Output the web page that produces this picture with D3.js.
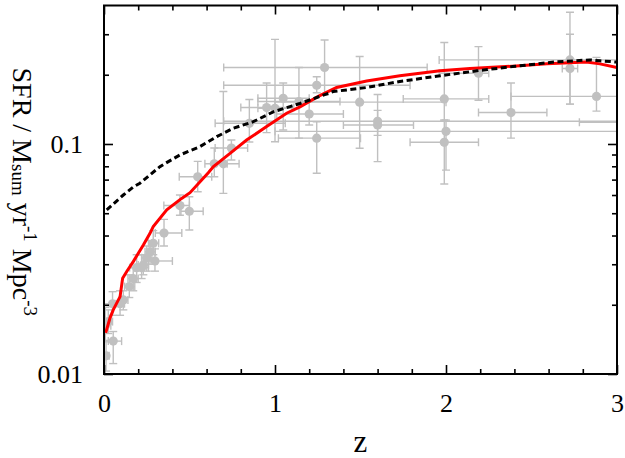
<!DOCTYPE html>
<html>
<head>
<meta charset="utf-8">
<script src="https://cdn.jsdelivr.net/npm/d3@7"></script>
<style>
  html, body { margin: 0; padding: 0; background: #fff; }
  svg { display: block; }
</style>
</head>
<body>
<svg id="chart" width="625" height="458"></svg>
<script>
// ---- data ----
const xMajorTicks = [0, 1, 2, 3];
const xMinorTicks = [0.2, 0.4, 0.6, 0.8, 1.2, 1.4, 1.6, 1.8, 2.2, 2.4, 2.6, 2.8];
const yMajorTicks = [0.01, 0.1];
const yMinorTicks = [0.02, 0.03, 0.04, 0.05, 0.06, 0.07, 0.08, 0.09, 0.2, 0.3];
const xLabel = "z";

// red solid model curve
const redZ = [0.01, 0.035, 0.054, 0.094, 0.109, 0.133, 0.171, 0.23, 0.269, 0.288, 0.367, 0.454, 0.503, 0.61, 0.64, 0.737, 0.834, 0.951, 1.068, 1.146, 1.253, 1.36, 1.536, 1.73, 1.965, 2.14, 2.39, 2.59, 2.82, 2.9, 3.0];
const redV = [0.0151, 0.0175, 0.019, 0.0217, 0.0261, 0.0279, 0.0308, 0.0364, 0.0409, 0.0437, 0.0517, 0.058, 0.0614, 0.075, 0.0797, 0.091, 0.104, 0.119, 0.136, 0.145, 0.161, 0.176, 0.188, 0.198, 0.208, 0.213, 0.218, 0.223, 0.227, 0.223, 0.215];

// black dashed model curve
const blackZ = [0.016, 0.113, 0.171, 0.21, 0.327, 0.366, 0.444, 0.561, 0.659, 0.756, 0.873, 0.99, 1.146, 1.34, 1.536, 1.73, 1.965, 2.18, 2.39, 2.63, 2.84, 2.9, 3.0];
const blackV = [0.0517, 0.060, 0.065, 0.0675, 0.0797, 0.083, 0.0896, 0.0974, 0.1076, 0.117, 0.125, 0.138, 0.150, 0.169, 0.176, 0.187, 0.198, 0.208, 0.217, 0.227, 0.232, 0.230, 0.227];

// observational points with error bars
const ptZ   = [0.012, 0.054, 0.008, 0.025, 0.05, 0.094, 0.113, 0.148, 0.171, 0.191, 0.22, 0.23, 0.25, 0.269, 0.288, 0.298, 0.351, 0.444, 0.499, 0.548, 0.645, 0.698, 0.745, 0.85, 0.951, 1.0, 1.048, 1.14, 1.2, 1.244, 1.244, 1.29, 1.495, 1.6, 1.6, 1.99, 2.0, 1.99, 2.19, 2.38, 2.725, 2.725, 2.88, 3.3];
const ptV   = [0.0120, 0.0139, 0.0162, 0.0169, 0.0202, 0.0202, 0.0210, 0.0240, 0.0260, 0.0290, 0.0290, 0.0298, 0.0320, 0.0340, 0.0370, 0.0310, 0.0410, 0.0540, 0.0510, 0.0720, 0.0820, 0.0820, 0.0960, 0.1230, 0.1440, 0.1430, 0.1580, 0.1530, 0.1350, 0.1800, 0.1060, 0.2150, 0.1520, 0.1255, 0.1210, 0.1570, 0.1135, 0.1017, 0.2030, 0.1370, 0.2320, 0.2130, 0.1610, 0.1243];
const ptZlo = [0.0, 0.025, 0.0, 0.0, 0.0, 0.07, 0.09, 0.12, 0.14, 0.15, 0.18, 0.20, 0.22, 0.24, 0.26, 0.24, 0.30, 0.35, 0.45, 0.44, 0.59, 0.65, 0.65, 0.65, 0.80, 0.90, 0.90, 0.90, 1.01, 0.70, 1.02, 0.70, 1.00, 0.70, 1.40, 1.75, 1.00, 1.79, 1.96, 2.19, 1.96, 2.68, 2.38, 2.78];
const ptZhi = [0.03, 0.103, 0.04, 0.05, 0.1, 0.12, 0.14, 0.18, 0.20, 0.23, 0.26, 0.26, 0.28, 0.30, 0.32, 0.40, 0.455, 0.50, 0.58, 0.63, 0.72, 0.79, 0.84, 1.06, 1.11, 1.10, 1.20, 1.38, 1.40, 1.79, 1.50, 1.89, 2.00, 3.20, 1.81, 2.25, 3.00, 2.19, 2.25, 2.59, 3.50, 2.77, 3.50, 3.80];
const ptVlo = [0.0103, 0.0111, 0.0138, 0.0150, 0.0180, 0.0180, 0.0190, 0.0215, 0.0230, 0.0250, 0.0260, 0.0270, 0.0280, 0.0300, 0.0330, 0.0280, 0.0360, 0.0490, 0.0423, 0.0620, 0.0720, 0.0610, 0.0852, 0.1020, 0.1120, 0.1023, 0.1150, 0.1060, 0.1210, 0.1670, 0.0746, 0.1630, 0.0958, 0.1090, 0.0838, 0.1270, 0.0770, 0.0670, 0.1550, 0.1060, 0.1490, 0.1490, 0.1390, 0.1000];
const ptVhi = [0.0140, 0.0153, 0.0195, 0.0190, 0.0228, 0.0230, 0.0230, 0.0270, 0.0290, 0.0330, 0.0330, 0.0330, 0.0360, 0.0380, 0.0420, 0.0350, 0.0470, 0.0600, 0.0590, 0.0840, 0.0960, 0.1690, 0.1040, 0.1560, 0.1840, 0.2850, 0.1840, 0.2150, 0.1550, 0.1960, 0.1250, 0.2830, 0.2400, 0.1640, 0.1400, 0.2760, 0.1270, 0.1270, 0.2650, 0.1840, 0.3740, 0.3000, 0.2380, 0.1500];

// ---- layout ----
const L = 104, R = 617, T = 5.5, B = 374;
const svg = d3.select("#chart");
const x = d3.scaleLinear().domain([0, 3]).range([L, R]);
const y = d3.scaleLog().domain([0.01, 0.4]).range([B, T]);
const serif = '"Liberation Serif"';
const grey = "#c0c0c0";

svg.append("defs").append("clipPath").attr("id", "clip")
  .append("rect").attr("x", L).attr("y", T).attr("width", R - L).attr("height", B - T);

const data = ptZ.map((z, i) => ({ z, v: ptV[i], zlo: ptZlo[i], zhi: ptZhi[i], vlo: ptVlo[i], vhi: ptVhi[i] }));
const dg = svg.append("g").attr("clip-path", "url(#clip)");

// error bars
const cap = 4;
const eb = dg.append("g").attr("stroke", grey).attr("stroke-width", 1.4).attr("fill", "none");
data.forEach(d => {
  const cx = x(d.z), cy = y(d.v);
  const xl = x(d.zlo), xh = x(d.zhi), yl = y(d.vlo), yh = y(d.vhi);
  eb.append("line").attr("x1", xl).attr("x2", xh).attr("y1", cy).attr("y2", cy);
  eb.append("line").attr("x1", xl).attr("x2", xl).attr("y1", cy - cap).attr("y2", cy + cap);
  eb.append("line").attr("x1", xh).attr("x2", xh).attr("y1", cy - cap).attr("y2", cy + cap);
  eb.append("line").attr("x1", cx).attr("x2", cx).attr("y1", yl).attr("y2", yh);
  eb.append("line").attr("x1", cx - cap).attr("x2", cx + cap).attr("y1", yl).attr("y2", yl);
  eb.append("line").attr("x1", cx - cap).attr("x2", cx + cap).attr("y1", yh).attr("y2", yh);
});
dg.append("g").selectAll("circle").data(data).join("circle")
  .attr("cx", d => x(d.z)).attr("cy", d => y(d.v)).attr("r", 4.6).attr("fill", grey);

// curves
const line = d3.line().x(d => x(d[0])).y(d => y(d[1]));
dg.append("path").datum(redZ.map((z, i) => [z, redV[i]]))
  .attr("d", line).attr("fill", "none").attr("stroke", "#ff0000").attr("stroke-width", 3);
dg.append("path").datum(blackZ.map((z, i) => [z, blackV[i]]))
  .attr("d", line).attr("fill", "none").attr("stroke", "#000").attr("stroke-width", 3)
  .attr("stroke-dasharray", "6,3.5");

// axes (ticks inward on all four sides)
function styleAxis(g) {
  g.select(".domain").remove();
  g.selectAll(".tick line").attr("stroke", "#000").attr("stroke-width", 1.6);
}
const fmt = d3.format("");
svg.append("g").attr("transform", `translate(0,${B})`)
  .call(d3.axisBottom(x).tickValues(xMajorTicks).tickSize(-9).tickFormat(fmt))
  .call(styleAxis)
  .call(g => g.selectAll("text").attr("y", 38).attr("dy", null)
    .style("font-family", serif).style("font-size", "26px").attr("fill", "#000"));
svg.append("g").attr("transform", `translate(0,${B})`)
  .call(d3.axisBottom(x).tickValues(xMinorTicks).tickSize(-5).tickFormat(""))
  .call(styleAxis);
svg.append("g").attr("transform", `translate(0,${T})`)
  .call(d3.axisTop(x).tickValues(xMajorTicks).tickSize(-9).tickFormat(""))
  .call(styleAxis);
svg.append("g").attr("transform", `translate(0,${T})`)
  .call(d3.axisTop(x).tickValues(xMinorTicks).tickSize(-5).tickFormat(""))
  .call(styleAxis);

svg.append("g").attr("transform", `translate(${L},0)`)
  .call(d3.axisLeft(y).tickValues(yMajorTicks).tickSize(-9).tickFormat(d3.format("")))
  .call(styleAxis)
  .call(g => g.selectAll("text").attr("x", -21).attr("dy", "0.33em")
    .style("font-family", serif).style("font-size", "26px").attr("fill", "#000"));
svg.append("g").attr("transform", `translate(${L},0)`)
  .call(d3.axisLeft(y).tickValues(yMinorTicks).tickSize(-5).tickFormat(""))
  .call(styleAxis);
svg.append("g").attr("transform", `translate(${R},0)`)
  .call(d3.axisRight(y).tickValues(yMajorTicks).tickSize(-9).tickFormat(""))
  .call(styleAxis);
svg.append("g").attr("transform", `translate(${R},0)`)
  .call(d3.axisRight(y).tickValues(yMinorTicks).tickSize(-5).tickFormat(""))
  .call(styleAxis);

// frame
svg.append("rect").attr("x", L).attr("y", T).attr("width", R - L).attr("height", B - T)
  .attr("fill", "none").attr("stroke", "#000").attr("stroke-width", 2);

// axis titles
svg.append("text").attr("x", (L + R) / 2).attr("y", 452)
  .attr("text-anchor", "middle").style("font-family", serif).style("font-size", "31px")
  .text(xLabel);

const yl = svg.append("text")
  .attr("transform", `translate(13,${(T + B) / 2 + 2}) rotate(90)`)
  .attr("text-anchor", "middle").style("font-family", serif).style("font-size", "28px");
yl.append("tspan").text("SFR / M");
yl.append("tspan").style("font-size", "19px").attr("dy", 1).text("sum");
yl.append("tspan").attr("dy", -1).text(" yr");
yl.append("tspan").style("font-size", "19px").attr("dy", -11).text("-1");
yl.append("tspan").attr("dy", 11).text(" Mpc");
yl.append("tspan").style("font-size", "19px").attr("dy", -11).text("-3");
</script>
</body>
</html>
